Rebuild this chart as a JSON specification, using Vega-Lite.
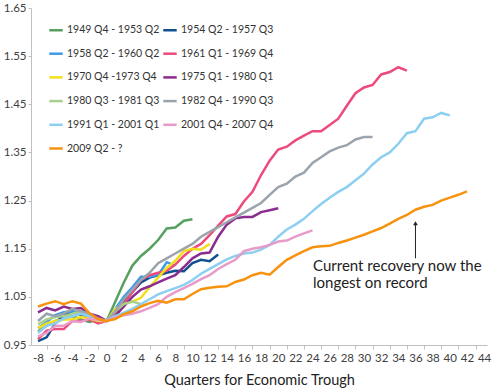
{
  "$schema": "https://vega.github.io/schema/vega-lite/v6.json",
  "width": 456,
  "height": 337,
  "autosize": "none",
  "padding": {"left": 31, "top": 8, "right": 6, "bottom": 46},
  "background": "white",
  "config": {"view": {"stroke": null}, "font": "Lato"},
  "resolve": {"axis": {"x": "independent"}},
  "datasets": {
    "notes": [
      {"q": 24.06, "v": 1.115, "label": "Current recovery now the"},
      {"q": 24.06, "v": 1.078, "label": "longest on record"}
    ],
    "arrow": [{"q": 36, "v": 1.13, "v2": 1.203}]
  },
  "data": {"values": [
    {"s":"1949 Q4 - 1953 Q2","q":-8,"v":0.978},{"s":"1949 Q4 - 1953 Q2","q":-7,"v":0.990},{"s":"1949 Q4 - 1953 Q2","q":-6,"v":1.000},{"s":"1949 Q4 - 1953 Q2","q":-5,"v":1.005},{"s":"1949 Q4 - 1953 Q2","q":-4,"v":1.010},{"s":"1949 Q4 - 1953 Q2","q":-3,"v":1.003},{"s":"1949 Q4 - 1953 Q2","q":-2,"v":0.998},{"s":"1949 Q4 - 1953 Q2","q":-1,"v":1.003},{"s":"1949 Q4 - 1953 Q2","q":0,"v":1.0},{"s":"1949 Q4 - 1953 Q2","q":1,"v":1.040},{"s":"1949 Q4 - 1953 Q2","q":2,"v":1.080},{"s":"1949 Q4 - 1953 Q2","q":3,"v":1.115},{"s":"1949 Q4 - 1953 Q2","q":4,"v":1.135},{"s":"1949 Q4 - 1953 Q2","q":5,"v":1.150},{"s":"1949 Q4 - 1953 Q2","q":6,"v":1.168},{"s":"1949 Q4 - 1953 Q2","q":7,"v":1.192},{"s":"1949 Q4 - 1953 Q2","q":8,"v":1.194},{"s":"1949 Q4 - 1953 Q2","q":9,"v":1.208},{"s":"1949 Q4 - 1953 Q2","q":10,"v":1.211},
    {"s":"1954 Q2 - 1957 Q3","q":-8,"v":0.958},{"s":"1954 Q2 - 1957 Q3","q":-7,"v":0.966},{"s":"1954 Q2 - 1957 Q3","q":-6,"v":0.995},{"s":"1954 Q2 - 1957 Q3","q":-5,"v":1.012},{"s":"1954 Q2 - 1957 Q3","q":-4,"v":1.020},{"s":"1954 Q2 - 1957 Q3","q":-3,"v":1.012},{"s":"1954 Q2 - 1957 Q3","q":-2,"v":1.010},{"s":"1954 Q2 - 1957 Q3","q":-1,"v":1.003},{"s":"1954 Q2 - 1957 Q3","q":0,"v":1.0},{"s":"1954 Q2 - 1957 Q3","q":1,"v":1.020},{"s":"1954 Q2 - 1957 Q3","q":2,"v":1.040},{"s":"1954 Q2 - 1957 Q3","q":3,"v":1.060},{"s":"1954 Q2 - 1957 Q3","q":4,"v":1.080},{"s":"1954 Q2 - 1957 Q3","q":5,"v":1.090},{"s":"1954 Q2 - 1957 Q3","q":6,"v":1.095},{"s":"1954 Q2 - 1957 Q3","q":7,"v":1.100},{"s":"1954 Q2 - 1957 Q3","q":8,"v":1.104},{"s":"1954 Q2 - 1957 Q3","q":9,"v":1.103},{"s":"1954 Q2 - 1957 Q3","q":10,"v":1.120},{"s":"1954 Q2 - 1957 Q3","q":11,"v":1.127},{"s":"1954 Q2 - 1957 Q3","q":12,"v":1.124},{"s":"1954 Q2 - 1957 Q3","q":13,"v":1.138},
    {"s":"1958 Q2 - 1960 Q2","q":-8,"v":0.985},{"s":"1958 Q2 - 1960 Q2","q":-7,"v":0.998},{"s":"1958 Q2 - 1960 Q2","q":-6,"v":1.012},{"s":"1958 Q2 - 1960 Q2","q":-5,"v":1.018},{"s":"1958 Q2 - 1960 Q2","q":-4,"v":1.020},{"s":"1958 Q2 - 1960 Q2","q":-3,"v":1.015},{"s":"1958 Q2 - 1960 Q2","q":-2,"v":1.008},{"s":"1958 Q2 - 1960 Q2","q":-1,"v":1.004},{"s":"1958 Q2 - 1960 Q2","q":0,"v":1.0},{"s":"1958 Q2 - 1960 Q2","q":1,"v":1.025},{"s":"1958 Q2 - 1960 Q2","q":2,"v":1.050},{"s":"1958 Q2 - 1960 Q2","q":3,"v":1.070},{"s":"1958 Q2 - 1960 Q2","q":4,"v":1.092},{"s":"1958 Q2 - 1960 Q2","q":5,"v":1.092},{"s":"1958 Q2 - 1960 Q2","q":6,"v":1.095},{"s":"1958 Q2 - 1960 Q2","q":7,"v":1.122},{"s":"1958 Q2 - 1960 Q2","q":8,"v":1.115},
    {"s":"1961 Q1 - 1969 Q4","q":-8,"v":0.962},{"s":"1961 Q1 - 1969 Q4","q":-7,"v":0.980},{"s":"1961 Q1 - 1969 Q4","q":-6,"v":0.983},{"s":"1961 Q1 - 1969 Q4","q":-5,"v":0.983},{"s":"1961 Q1 - 1969 Q4","q":-4,"v":1.000},{"s":"1961 Q1 - 1969 Q4","q":-3,"v":1.000},{"s":"1961 Q1 - 1969 Q4","q":-2,"v":1.003},{"s":"1961 Q1 - 1969 Q4","q":-1,"v":0.995},{"s":"1961 Q1 - 1969 Q4","q":0,"v":1.0},{"s":"1961 Q1 - 1969 Q4","q":1,"v":1.015},{"s":"1961 Q1 - 1969 Q4","q":2,"v":1.035},{"s":"1961 Q1 - 1969 Q4","q":3,"v":1.060},{"s":"1961 Q1 - 1969 Q4","q":4,"v":1.085},{"s":"1961 Q1 - 1969 Q4","q":5,"v":1.095},{"s":"1961 Q1 - 1969 Q4","q":6,"v":1.100},{"s":"1961 Q1 - 1969 Q4","q":7,"v":1.104},{"s":"1961 Q1 - 1969 Q4","q":8,"v":1.117},{"s":"1961 Q1 - 1969 Q4","q":9,"v":1.135},{"s":"1961 Q1 - 1969 Q4","q":10,"v":1.150},{"s":"1961 Q1 - 1969 Q4","q":11,"v":1.160},{"s":"1961 Q1 - 1969 Q4","q":12,"v":1.178},{"s":"1961 Q1 - 1969 Q4","q":13,"v":1.198},{"s":"1961 Q1 - 1969 Q4","q":14,"v":1.217},{"s":"1961 Q1 - 1969 Q4","q":15,"v":1.222},{"s":"1961 Q1 - 1969 Q4","q":16,"v":1.248},{"s":"1961 Q1 - 1969 Q4","q":17,"v":1.268},{"s":"1961 Q1 - 1969 Q4","q":18,"v":1.303},{"s":"1961 Q1 - 1969 Q4","q":19,"v":1.333},{"s":"1961 Q1 - 1969 Q4","q":20,"v":1.356},{"s":"1961 Q1 - 1969 Q4","q":21,"v":1.362},{"s":"1961 Q1 - 1969 Q4","q":22,"v":1.375},{"s":"1961 Q1 - 1969 Q4","q":23,"v":1.385},{"s":"1961 Q1 - 1969 Q4","q":24,"v":1.394},{"s":"1961 Q1 - 1969 Q4","q":25,"v":1.394},{"s":"1961 Q1 - 1969 Q4","q":26,"v":1.407},{"s":"1961 Q1 - 1969 Q4","q":27,"v":1.420},{"s":"1961 Q1 - 1969 Q4","q":28,"v":1.447},{"s":"1961 Q1 - 1969 Q4","q":29,"v":1.473},{"s":"1961 Q1 - 1969 Q4","q":30,"v":1.485},{"s":"1961 Q1 - 1969 Q4","q":31,"v":1.490},{"s":"1961 Q1 - 1969 Q4","q":32,"v":1.512},{"s":"1961 Q1 - 1969 Q4","q":33,"v":1.517},{"s":"1961 Q1 - 1969 Q4","q":34,"v":1.527},{"s":"1961 Q1 - 1969 Q4","q":35,"v":1.520},
    {"s":"1970 Q4 -1973 Q4","q":-8,"v":0.985},{"s":"1970 Q4 -1973 Q4","q":-7,"v":0.995},{"s":"1970 Q4 -1973 Q4","q":-6,"v":1.000},{"s":"1970 Q4 -1973 Q4","q":-5,"v":1.003},{"s":"1970 Q4 -1973 Q4","q":-4,"v":1.003},{"s":"1970 Q4 -1973 Q4","q":-3,"v":1.008},{"s":"1970 Q4 -1973 Q4","q":-2,"v":1.005},{"s":"1970 Q4 -1973 Q4","q":-1,"v":1.0},{"s":"1970 Q4 -1973 Q4","q":0,"v":1.0},{"s":"1970 Q4 -1973 Q4","q":1,"v":1.025},{"s":"1970 Q4 -1973 Q4","q":2,"v":1.035},{"s":"1970 Q4 -1973 Q4","q":3,"v":1.040},{"s":"1970 Q4 -1973 Q4","q":4,"v":1.048},{"s":"1970 Q4 -1973 Q4","q":5,"v":1.070},{"s":"1970 Q4 -1973 Q4","q":6,"v":1.090},{"s":"1970 Q4 -1973 Q4","q":7,"v":1.110},{"s":"1970 Q4 -1973 Q4","q":8,"v":1.125},{"s":"1970 Q4 -1973 Q4","q":9,"v":1.145},{"s":"1970 Q4 -1973 Q4","q":10,"v":1.150},{"s":"1970 Q4 -1973 Q4","q":11,"v":1.148},{"s":"1970 Q4 -1973 Q4","q":12,"v":1.160},
    {"s":"1975 Q1 - 1980 Q1","q":-8,"v":1.018},{"s":"1975 Q1 - 1980 Q1","q":-7,"v":1.027},{"s":"1975 Q1 - 1980 Q1","q":-6,"v":1.022},{"s":"1975 Q1 - 1980 Q1","q":-5,"v":1.030},{"s":"1975 Q1 - 1980 Q1","q":-4,"v":1.025},{"s":"1975 Q1 - 1980 Q1","q":-3,"v":1.027},{"s":"1975 Q1 - 1980 Q1","q":-2,"v":1.015},{"s":"1975 Q1 - 1980 Q1","q":-1,"v":1.010},{"s":"1975 Q1 - 1980 Q1","q":0,"v":1.0},{"s":"1975 Q1 - 1980 Q1","q":1,"v":1.010},{"s":"1975 Q1 - 1980 Q1","q":2,"v":1.030},{"s":"1975 Q1 - 1980 Q1","q":3,"v":1.050},{"s":"1975 Q1 - 1980 Q1","q":4,"v":1.065},{"s":"1975 Q1 - 1980 Q1","q":5,"v":1.072},{"s":"1975 Q1 - 1980 Q1","q":6,"v":1.080},{"s":"1975 Q1 - 1980 Q1","q":7,"v":1.088},{"s":"1975 Q1 - 1980 Q1","q":8,"v":1.095},{"s":"1975 Q1 - 1980 Q1","q":9,"v":1.112},{"s":"1975 Q1 - 1980 Q1","q":10,"v":1.130},{"s":"1975 Q1 - 1980 Q1","q":11,"v":1.140},{"s":"1975 Q1 - 1980 Q1","q":12,"v":1.142},{"s":"1975 Q1 - 1980 Q1","q":13,"v":1.175},{"s":"1975 Q1 - 1980 Q1","q":14,"v":1.200},{"s":"1975 Q1 - 1980 Q1","q":15,"v":1.213},{"s":"1975 Q1 - 1980 Q1","q":16,"v":1.216},{"s":"1975 Q1 - 1980 Q1","q":17,"v":1.216},{"s":"1975 Q1 - 1980 Q1","q":18,"v":1.226},{"s":"1975 Q1 - 1980 Q1","q":19,"v":1.230},{"s":"1975 Q1 - 1980 Q1","q":20,"v":1.234},
    {"s":"1980 Q3 - 1981 Q3","q":-8,"v":0.993},{"s":"1980 Q3 - 1981 Q3","q":-7,"v":1.003},{"s":"1980 Q3 - 1981 Q3","q":-6,"v":1.008},{"s":"1980 Q3 - 1981 Q3","q":-5,"v":1.010},{"s":"1980 Q3 - 1981 Q3","q":-4,"v":1.015},{"s":"1980 Q3 - 1981 Q3","q":-3,"v":1.020},{"s":"1980 Q3 - 1981 Q3","q":-2,"v":1.010},{"s":"1980 Q3 - 1981 Q3","q":-1,"v":1.003},{"s":"1980 Q3 - 1981 Q3","q":0,"v":1.0},{"s":"1980 Q3 - 1981 Q3","q":1,"v":1.020},{"s":"1980 Q3 - 1981 Q3","q":2,"v":1.035},{"s":"1980 Q3 - 1981 Q3","q":3,"v":1.040},{"s":"1980 Q3 - 1981 Q3","q":4,"v":1.035},
    {"s":"1982 Q4 - 1990 Q3","q":-8,"v":1.000},{"s":"1982 Q4 - 1990 Q3","q":-7,"v":1.015},{"s":"1982 Q4 - 1990 Q3","q":-6,"v":1.010},{"s":"1982 Q4 - 1990 Q3","q":-5,"v":1.015},{"s":"1982 Q4 - 1990 Q3","q":-4,"v":1.025},{"s":"1982 Q4 - 1990 Q3","q":-3,"v":1.020},{"s":"1982 Q4 - 1990 Q3","q":-2,"v":1.015},{"s":"1982 Q4 - 1990 Q3","q":-1,"v":1.005},{"s":"1982 Q4 - 1990 Q3","q":0,"v":1.0},{"s":"1982 Q4 - 1990 Q3","q":1,"v":1.020},{"s":"1982 Q4 - 1990 Q3","q":2,"v":1.045},{"s":"1982 Q4 - 1990 Q3","q":3,"v":1.065},{"s":"1982 Q4 - 1990 Q3","q":4,"v":1.085},{"s":"1982 Q4 - 1990 Q3","q":5,"v":1.100},{"s":"1982 Q4 - 1990 Q3","q":6,"v":1.120},{"s":"1982 Q4 - 1990 Q3","q":7,"v":1.130},{"s":"1982 Q4 - 1990 Q3","q":8,"v":1.140},{"s":"1982 Q4 - 1990 Q3","q":9,"v":1.150},{"s":"1982 Q4 - 1990 Q3","q":10,"v":1.160},{"s":"1982 Q4 - 1990 Q3","q":11,"v":1.175},{"s":"1982 Q4 - 1990 Q3","q":12,"v":1.185},{"s":"1982 Q4 - 1990 Q3","q":13,"v":1.195},{"s":"1982 Q4 - 1990 Q3","q":14,"v":1.205},{"s":"1982 Q4 - 1990 Q3","q":15,"v":1.215},{"s":"1982 Q4 - 1990 Q3","q":16,"v":1.225},{"s":"1982 Q4 - 1990 Q3","q":17,"v":1.235},{"s":"1982 Q4 - 1990 Q3","q":18,"v":1.245},{"s":"1982 Q4 - 1990 Q3","q":19,"v":1.262},{"s":"1982 Q4 - 1990 Q3","q":20,"v":1.278},{"s":"1982 Q4 - 1990 Q3","q":21,"v":1.285},{"s":"1982 Q4 - 1990 Q3","q":22,"v":1.300},{"s":"1982 Q4 - 1990 Q3","q":23,"v":1.308},{"s":"1982 Q4 - 1990 Q3","q":24,"v":1.328},{"s":"1982 Q4 - 1990 Q3","q":25,"v":1.340},{"s":"1982 Q4 - 1990 Q3","q":26,"v":1.352},{"s":"1982 Q4 - 1990 Q3","q":27,"v":1.360},{"s":"1982 Q4 - 1990 Q3","q":28,"v":1.365},{"s":"1982 Q4 - 1990 Q3","q":29,"v":1.377},{"s":"1982 Q4 - 1990 Q3","q":30,"v":1.382},{"s":"1982 Q4 - 1990 Q3","q":31,"v":1.382},
    {"s":"1991 Q1 - 2001 Q1","q":-8,"v":0.975},{"s":"1991 Q1 - 2001 Q1","q":-7,"v":0.990},{"s":"1991 Q1 - 2001 Q1","q":-6,"v":0.995},{"s":"1991 Q1 - 2001 Q1","q":-5,"v":1.005},{"s":"1991 Q1 - 2001 Q1","q":-4,"v":1.010},{"s":"1991 Q1 - 2001 Q1","q":-3,"v":1.015},{"s":"1991 Q1 - 2001 Q1","q":-2,"v":1.010},{"s":"1991 Q1 - 2001 Q1","q":-1,"v":1.003},{"s":"1991 Q1 - 2001 Q1","q":0,"v":1.0},{"s":"1991 Q1 - 2001 Q1","q":1,"v":1.010},{"s":"1991 Q1 - 2001 Q1","q":2,"v":1.017},{"s":"1991 Q1 - 2001 Q1","q":3,"v":1.025},{"s":"1991 Q1 - 2001 Q1","q":4,"v":1.035},{"s":"1991 Q1 - 2001 Q1","q":5,"v":1.045},{"s":"1991 Q1 - 2001 Q1","q":6,"v":1.055},{"s":"1991 Q1 - 2001 Q1","q":7,"v":1.062},{"s":"1991 Q1 - 2001 Q1","q":8,"v":1.068},{"s":"1991 Q1 - 2001 Q1","q":9,"v":1.075},{"s":"1991 Q1 - 2001 Q1","q":10,"v":1.085},{"s":"1991 Q1 - 2001 Q1","q":11,"v":1.098},{"s":"1991 Q1 - 2001 Q1","q":12,"v":1.108},{"s":"1991 Q1 - 2001 Q1","q":13,"v":1.118},{"s":"1991 Q1 - 2001 Q1","q":14,"v":1.128},{"s":"1991 Q1 - 2001 Q1","q":15,"v":1.135},{"s":"1991 Q1 - 2001 Q1","q":16,"v":1.140},{"s":"1991 Q1 - 2001 Q1","q":17,"v":1.142},{"s":"1991 Q1 - 2001 Q1","q":18,"v":1.148},{"s":"1991 Q1 - 2001 Q1","q":19,"v":1.158},{"s":"1991 Q1 - 2001 Q1","q":20,"v":1.175},{"s":"1991 Q1 - 2001 Q1","q":21,"v":1.190},{"s":"1991 Q1 - 2001 Q1","q":22,"v":1.200},{"s":"1991 Q1 - 2001 Q1","q":23,"v":1.212},{"s":"1991 Q1 - 2001 Q1","q":24,"v":1.228},{"s":"1991 Q1 - 2001 Q1","q":25,"v":1.243},{"s":"1991 Q1 - 2001 Q1","q":26,"v":1.256},{"s":"1991 Q1 - 2001 Q1","q":27,"v":1.268},{"s":"1991 Q1 - 2001 Q1","q":28,"v":1.278},{"s":"1991 Q1 - 2001 Q1","q":29,"v":1.292},{"s":"1991 Q1 - 2001 Q1","q":30,"v":1.306},{"s":"1991 Q1 - 2001 Q1","q":31,"v":1.325},{"s":"1991 Q1 - 2001 Q1","q":32,"v":1.340},{"s":"1991 Q1 - 2001 Q1","q":33,"v":1.350},{"s":"1991 Q1 - 2001 Q1","q":34,"v":1.368},{"s":"1991 Q1 - 2001 Q1","q":35,"v":1.390},{"s":"1991 Q1 - 2001 Q1","q":36,"v":1.394},{"s":"1991 Q1 - 2001 Q1","q":37,"v":1.420},{"s":"1991 Q1 - 2001 Q1","q":38,"v":1.423},{"s":"1991 Q1 - 2001 Q1","q":39,"v":1.432},{"s":"1991 Q1 - 2001 Q1","q":40,"v":1.427},
    {"s":"2001 Q4 - 2007 Q4","q":-8,"v":0.968},{"s":"2001 Q4 - 2007 Q4","q":-7,"v":0.975},{"s":"2001 Q4 - 2007 Q4","q":-6,"v":0.990},{"s":"2001 Q4 - 2007 Q4","q":-5,"v":0.990},{"s":"2001 Q4 - 2007 Q4","q":-4,"v":1.000},{"s":"2001 Q4 - 2007 Q4","q":-3,"v":0.998},{"s":"2001 Q4 - 2007 Q4","q":-2,"v":1.005},{"s":"2001 Q4 - 2007 Q4","q":-1,"v":1.002},{"s":"2001 Q4 - 2007 Q4","q":0,"v":1.0},{"s":"2001 Q4 - 2007 Q4","q":1,"v":1.007},{"s":"2001 Q4 - 2007 Q4","q":2,"v":1.012},{"s":"2001 Q4 - 2007 Q4","q":3,"v":1.015},{"s":"2001 Q4 - 2007 Q4","q":4,"v":1.020},{"s":"2001 Q4 - 2007 Q4","q":5,"v":1.027},{"s":"2001 Q4 - 2007 Q4","q":6,"v":1.035},{"s":"2001 Q4 - 2007 Q4","q":7,"v":1.050},{"s":"2001 Q4 - 2007 Q4","q":8,"v":1.060},{"s":"2001 Q4 - 2007 Q4","q":9,"v":1.068},{"s":"2001 Q4 - 2007 Q4","q":10,"v":1.077},{"s":"2001 Q4 - 2007 Q4","q":11,"v":1.087},{"s":"2001 Q4 - 2007 Q4","q":12,"v":1.095},{"s":"2001 Q4 - 2007 Q4","q":13,"v":1.108},{"s":"2001 Q4 - 2007 Q4","q":14,"v":1.118},{"s":"2001 Q4 - 2007 Q4","q":15,"v":1.127},{"s":"2001 Q4 - 2007 Q4","q":16,"v":1.145},{"s":"2001 Q4 - 2007 Q4","q":17,"v":1.150},{"s":"2001 Q4 - 2007 Q4","q":18,"v":1.153},{"s":"2001 Q4 - 2007 Q4","q":19,"v":1.158},{"s":"2001 Q4 - 2007 Q4","q":20,"v":1.165},{"s":"2001 Q4 - 2007 Q4","q":21,"v":1.167},{"s":"2001 Q4 - 2007 Q4","q":22,"v":1.175},{"s":"2001 Q4 - 2007 Q4","q":23,"v":1.182},{"s":"2001 Q4 - 2007 Q4","q":24,"v":1.188},
    {"s":"2009 Q2 - ?","q":-8,"v":1.030},{"s":"2009 Q2 - ?","q":-7,"v":1.036},{"s":"2009 Q2 - ?","q":-6,"v":1.041},{"s":"2009 Q2 - ?","q":-5,"v":1.035},{"s":"2009 Q2 - ?","q":-4,"v":1.041},{"s":"2009 Q2 - ?","q":-3,"v":1.036},{"s":"2009 Q2 - ?","q":-2,"v":1.016},{"s":"2009 Q2 - ?","q":-1,"v":1.004},{"s":"2009 Q2 - ?","q":0,"v":1.0},{"s":"2009 Q2 - ?","q":1,"v":1.004},{"s":"2009 Q2 - ?","q":2,"v":1.014},{"s":"2009 Q2 - ?","q":3,"v":1.020},{"s":"2009 Q2 - ?","q":4,"v":1.030},{"s":"2009 Q2 - ?","q":5,"v":1.037},{"s":"2009 Q2 - ?","q":6,"v":1.042},{"s":"2009 Q2 - ?","q":7,"v":1.038},{"s":"2009 Q2 - ?","q":8,"v":1.045},{"s":"2009 Q2 - ?","q":9,"v":1.045},{"s":"2009 Q2 - ?","q":10,"v":1.056},{"s":"2009 Q2 - ?","q":11,"v":1.066},{"s":"2009 Q2 - ?","q":12,"v":1.069},{"s":"2009 Q2 - ?","q":13,"v":1.071},{"s":"2009 Q2 - ?","q":14,"v":1.072},{"s":"2009 Q2 - ?","q":15,"v":1.081},{"s":"2009 Q2 - ?","q":16,"v":1.086},{"s":"2009 Q2 - ?","q":17,"v":1.095},{"s":"2009 Q2 - ?","q":18,"v":1.100},{"s":"2009 Q2 - ?","q":19,"v":1.096},{"s":"2009 Q2 - ?","q":20,"v":1.112},{"s":"2009 Q2 - ?","q":21,"v":1.127},{"s":"2009 Q2 - ?","q":22,"v":1.136},{"s":"2009 Q2 - ?","q":23,"v":1.145},{"s":"2009 Q2 - ?","q":24,"v":1.153},{"s":"2009 Q2 - ?","q":25,"v":1.155},{"s":"2009 Q2 - ?","q":26,"v":1.156},{"s":"2009 Q2 - ?","q":27,"v":1.162},{"s":"2009 Q2 - ?","q":28,"v":1.167},{"s":"2009 Q2 - ?","q":29,"v":1.173},{"s":"2009 Q2 - ?","q":30,"v":1.179},{"s":"2009 Q2 - ?","q":31,"v":1.186},{"s":"2009 Q2 - ?","q":32,"v":1.193},{"s":"2009 Q2 - ?","q":33,"v":1.202},{"s":"2009 Q2 - ?","q":34,"v":1.212},{"s":"2009 Q2 - ?","q":35,"v":1.220},{"s":"2009 Q2 - ?","q":36,"v":1.231},{"s":"2009 Q2 - ?","q":37,"v":1.237},{"s":"2009 Q2 - ?","q":38,"v":1.241},{"s":"2009 Q2 - ?","q":39,"v":1.250},{"s":"2009 Q2 - ?","q":40,"v":1.256},{"s":"2009 Q2 - ?","q":41,"v":1.262},{"s":"2009 Q2 - ?","q":42,"v":1.269}
  ]},
  "layer": [
    {
      "mark": {"type": "line", "strokeWidth": 2.5, "interpolate": "linear"},
      "encoding": {
        "x": {"field": "q", "type": "quantitative",
          "scale": {"domain": [-8.82, 44.34], "nice": false, "zero": false},
          "axis": {"orient": "bottom", "title": "Quarters for Economic Trough", "values": [-8,-6,-4,-2,0,2,4,6,8,10,12,14,16,18,20,22,24,26,28,30,32,34,36,38,40,42,44],
            "labelExpr": "datum.value < 0 ? '-' + abs(datum.value) : '' + datum.value",
            "grid": false, "domainColor": "#BFBFBF", "ticks": false, "labelPadding": 7,
            "labelFont": "Lato", "labelFontSize": 11.5, "labelColor": "#404040", "labelFlush": false, "labelOverlap": false, "labelBound": false,
            "titleFont": "Lato", "titleFontSize": 14.5, "titleFontWeight": "normal", "titleColor": "#222222", "titlePadding": 10}},
        "y": {"field": "v", "type": "quantitative",
          "scale": {"domain": [0.95, 1.65], "nice": false, "zero": false},
          "axis": {"title": null, "values": [0.95,1.05,1.15,1.25,1.35,1.45,1.55,1.65], "format": ".2f",
            "grid": false, "domainColor": "#BFBFBF", "tickColor": "#BFBFBF", "tickSize": 3, "labelPadding": 2,
            "labelFont": "Lato", "labelFontSize": 11.5, "labelColor": "#404040", "labelFlush": false, "labelOverlap": false}},
        "color": {"field": "s", "type": "nominal",
          "scale": {"domain": ["1949 Q4 - 1953 Q2","1958 Q2 - 1960 Q2","1970 Q4 -1973 Q4","1980 Q3 - 1981 Q3","1991 Q1 - 2001 Q1","2009 Q2 - ?","1954 Q2 - 1957 Q3","1961 Q1 - 1969 Q4","1975 Q1 - 1980 Q1","1982 Q4 - 1990 Q3","2001 Q4 - 2007 Q4"],
            "range": ["#57A05F","#3C9BE8","#F4DE1C","#A8D08D","#8DCFF0","#F7920F","#10508E","#EC4B7C","#8C2C8F","#9BA3AC","#E79BC9"]},
          "legend": {"title": null, "orient": "none", "legendX": 17, "legendY": 14, "columns": 2, "columnPadding": -2, "rowPadding": 9.7,
            "symbolType": "stroke", "symbolStrokeWidth": 2.5, "symbolSize": 180, "labelFont": "Lato", "labelFontSize": 10.5, "labelColor": "#333333", "labelOffset": 3, "labelLimit": 200}}
      }
    },
    {
      "data": {"name": "arrow"},
      "mark": {"type": "rule", "color": "#222222", "strokeWidth": 1},
      "encoding": {
        "x": {"field": "q", "type": "quantitative",
          "axis": {"orient": "bottom", "title": null, "labels": false, "domain": false, "grid": false,
            "values": [-9,-7,-5,-3,-1,1,3,5,7,9,11,13,15,17,19,21,23,25,27,29,31,33,35,37,39,41,43],
            "ticks": true, "tickColor": "#BFBFBF", "tickSize": 4}},
        "y": {"field": "v", "type": "quantitative"}, "y2": {"field": "v2"}}
    },
    {
      "data": {"name": "arrow"},
      "mark": {"type": "point", "shape": "triangle-up", "filled": true, "color": "#222222", "size": 22, "opacity": 1},
      "encoding": {"x": {"field": "q", "type": "quantitative", "axis": null}, "y": {"field": "v2", "type": "quantitative"}}
    },
    {
      "data": {"name": "notes"},
      "mark": {"type": "text", "align": "left", "baseline": "middle", "font": "Lato", "fontSize": 15, "color": "#222222"},
      "encoding": {"x": {"field": "q", "type": "quantitative", "axis": null}, "y": {"field": "v", "type": "quantitative"}, "text": {"field": "label"}}
    }
  ]
}
